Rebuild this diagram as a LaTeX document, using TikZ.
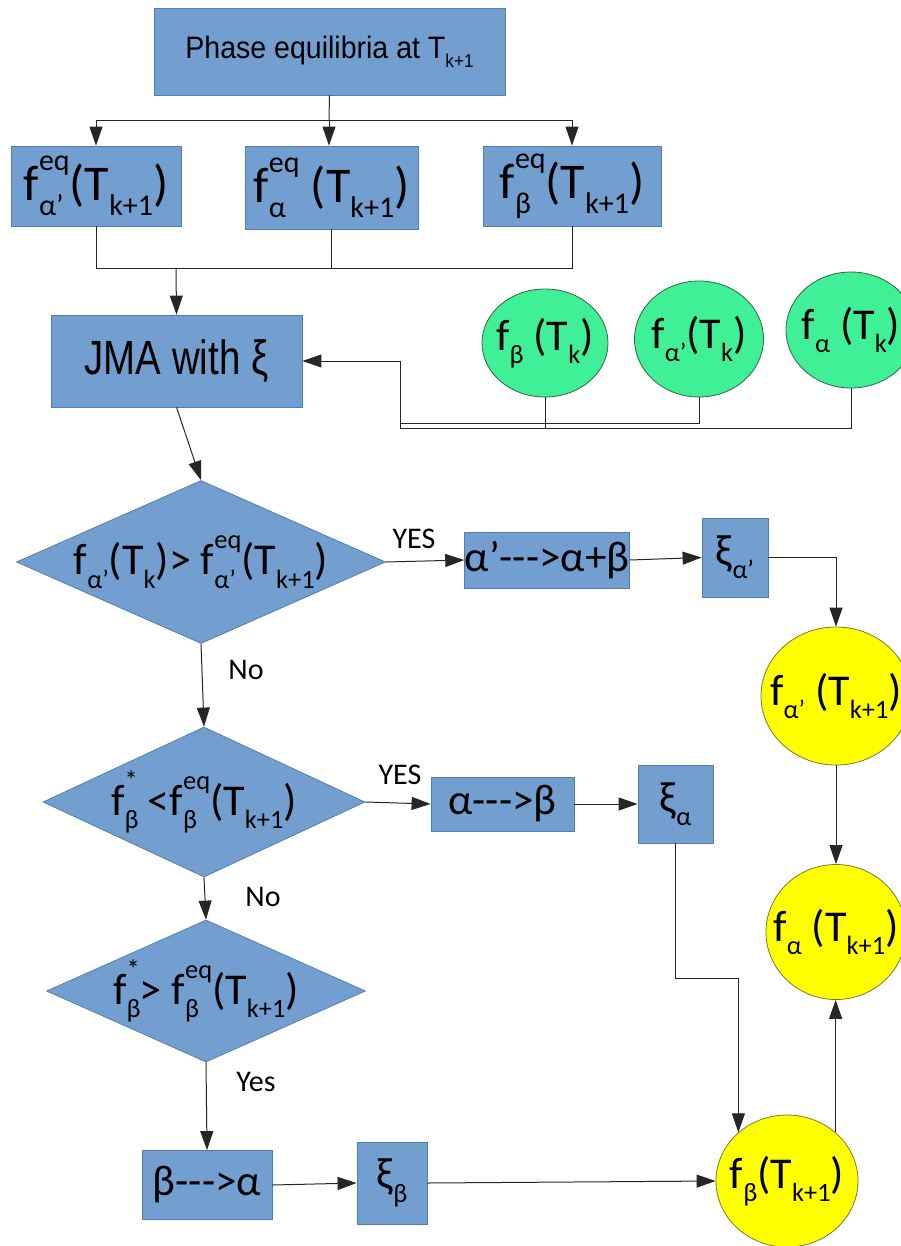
\documentclass[tikz,border=0pt]{standalone}
\usepackage{fontspec}
\usepackage{graphicx}
\setmainfont{Carlito}
\newfontfamily\arialc[FakeStretch=0.8]{Liberation Sans}
\newfontfamily\arialt[FakeStretch=0.92]{Liberation Sans}
\usetikzlibrary{arrows.meta,shapes.geometric}
\newcommand\lo[1]{\raisebox{-0.3em}{\scalebox{0.6}{#1}}}
\newcommand\hi[1]{\raisebox{0.6em}{\scalebox{0.6}{#1}}}
\newcommand\lohi[2]{\rlap{\lo{#1}}\hi{#2}}
\newcommand\fsz[1]{\fontsize{#1}{#1}\selectfont}
\definecolor{boxblue}{RGB}{114,159,207}
\definecolor{boxline}{RGB}{84,124,176}
\definecolor{grn}{RGB}{64,240,150}
\definecolor{grnline}{RGB}{50,100,70}
\definecolor{ylw}{RGB}{255,255,0}
\definecolor{ylwline}{RGB}{120,120,60}
\tikzset{
  bluebox/.style={draw=boxline, fill=boxblue, line width=0.8pt, inner sep=0pt},
  bluedia/.style={shape=diamond, draw=boxline, fill=boxblue, line width=0.8pt, inner sep=0pt},
  greenell/.style={shape=ellipse, draw=grnline, fill=grn, line width=0.8pt, inner sep=0pt},
  yellowell/.style={shape=ellipse, draw=ylwline, fill=ylw, line width=0.8pt, inner sep=0pt},
  txt/.style={inner sep=0pt, font=\fsz{44}},
  lbl/.style={inner sep=0pt, font=\fsz{30}},
  conn/.style={draw=black!85, line width=1pt},
  arr/.style={conn, -{Triangle[length=19pt,width=13pt]}},
}
\begin{document}
\begin{tikzpicture}[x=1pt,y=-1pt]
\useasboundingbox (0,0) rectangle (901,1246);
% boxes
\node[bluebox, minimum width=351pt, minimum height=87pt] (top) at (329.5,51.5)
  {\arialt\fsz{31}Phase equilibria at T\lo{k+1}};
\node[bluebox, minimum width=170pt, minimum height=80pt, font=\fsz{50}] (b1) at (96,186)
  {f\lohi{α'}{eq}(T\lo{k+1})};
\node[bluebox, minimum width=173pt, minimum height=83pt, font=\fsz{50}] (b2) at (331.5,187.5)
  {f\lohi{α}{eq} (T\lo{k+1})};
\node[bluebox, minimum width=178pt, minimum height=80pt, font=\fsz{50}] (b3) at (572,186)
  {f\lohi{β}{eq}(T\lo{k+1})};
\node[bluebox, minimum width=251pt, minimum height=92pt] (jma) at (176.5,361)
  {\arialc\fsz{48}JMA with ξ};
% green ellipses
\node[greenell, minimum width=126pt, minimum height=108pt] (g1) at (545,343) {};
\node[txt] (g1t) at (g1.center) {f\lo{β} (T\lo{k})};
\node[greenell, minimum width=129pt, minimum height=116pt] (g2) at (699,339) {};
\node[txt] (g2t) at (g2.center) {f\lo{α'}(T\lo{k})};
\node[greenell, minimum width=130pt, minimum height=116pt] (g3) at (851,330) {};
\node[txt] (g3t) at (g3.center) {f\lo{α} (T\lo{k})};
% diamonds
\node[bluedia, minimum width=369pt, minimum height=163pt] (d1) at (201,562) {};
\node[txt] (d1t) at (d1.center) {f\lo{α'}(T\lo{k})> f\lohi{α'}{eq}(T\lo{k+1})};
\node[bluedia, minimum width=322pt, minimum height=150pt] (d2) at (204,802) {};
\node[txt] (d2t) at (d2.center) {f\lohi{β}{*} <f\lohi{β}{eq}(T\lo{k+1})};
\node[bluedia, minimum width=319pt, minimum height=142pt] (d3) at (206,991) {};
\node[txt] (d3t) at (d3.center) {f\lohi{β}{*}> f\lohi{β}{eq}(T\lo{k+1})};
% process boxes
\node[bluebox, minimum width=164pt, minimum height=56pt, font=\fsz{43}] (ba) at (547,560) {α'-{}-{}->α+β};
\node[bluebox, minimum width=66pt, minimum height=79pt, font=\fsz{44}] (xa1) at (735,557.5) {ξ\lo{α'}};
\node[bluebox, minimum width=143pt, minimum height=54pt, font=\fsz{43}] (bb) at (502.5,804) {α-{}-{}->β};
\node[bluebox, minimum width=75pt, minimum height=78pt, font=\fsz{44}] (xa) at (675.5,804) {ξ\lo{α}};
\node[bluebox, minimum width=130pt, minimum height=69pt, font=\fsz{43}] (bc) at (207,1185) {β-{}-{}->α};
\node[bluebox, minimum width=70pt, minimum height=82pt, font=\fsz{44}] (xb) at (392,1183) {ξ\lo{β}};
% yellow ellipses
\node[yellowell, minimum width=150pt, minimum height=138pt] (y1) at (836,696) {};
\node[txt] (y1t) at (y1.center) {f\lo{α'} (T\lo{k+1})};
\node[yellowell, minimum width=140pt, minimum height=135pt] (y2) at (836,932) {};
\node[txt] (y2t) at (y2.center) {f\lo{α} (T\lo{k+1})};
\node[yellowell, minimum width=142pt, minimum height=132pt] (y3) at (787,1181) {};
\node[txt] (y3t) at (y3.center) {f\lo{β}(T\lo{k+1})};
% labels
\node[lbl] (yes1) at (414,539) {YES};
\node[lbl] (no1) at (246,670) {No};
\node[lbl] (yes2) at (400,775) {YES};
\node[lbl] (no2) at (263,897) {No};
\node[lbl] (yes3) at (256,1082) {Yes};
% top connectors
\coordinate (j1) at (329,121);
\coordinate (j2) at (176,269);
\draw[conn] (top.south) -- (j1);
\draw[arr] (j1) -- (j1 |- b2.north);
\draw[arr] (j1) -| (b1.north);
\draw[arr] (j1) -| (b3.north);
\draw[conn] (b1.south) |- (b3.south |- j2) -- (b3.south);
\draw[conn] (b2.south) -- (b2.south |- j2);
\draw[arr] (j2) -- (jma.north);
% green connectors
\coordinate (h1) at (400,428);
\coordinate (h2) at (400,423);
\draw[conn] (g3.south) |- (h1);
\draw[conn] (g1.south) -- (g1.south |- h1);
\draw[conn] (g2.south) |- (h2);
\draw[arr] (h1) -- (h1 |- jma.east) -- (jma.east);
% flow
\draw[arr] (jma.south) -- (d1.north);
\draw[arr] (d1.east) -- (ba.west);
\draw[arr] (ba.east) -- (xa1.west);
\draw[arr] (xa1.east) -| (y1.north);
\draw[arr] (y1.south) -- (y2.north);
\draw[arr] (d1.south) -- (d2.north);
\draw[arr] (d2.east) -- (bb.west);
\draw[arr] (bb.east) -- (xa.west);
\draw[arr] (xa.south) -- ++(0,135) -| (y3.135);
\draw[arr] (d2.south) -- (d3.north);
\draw[arr] (d3.south) -- (bc.north);
\draw[arr] (bc.east) -- (xb.west);
\draw[arr] (xb.east) -- (y3.west);
\draw[arr] (y3.45) -- (y3.45 |- y2.south);
\end{tikzpicture}
\end{document}
